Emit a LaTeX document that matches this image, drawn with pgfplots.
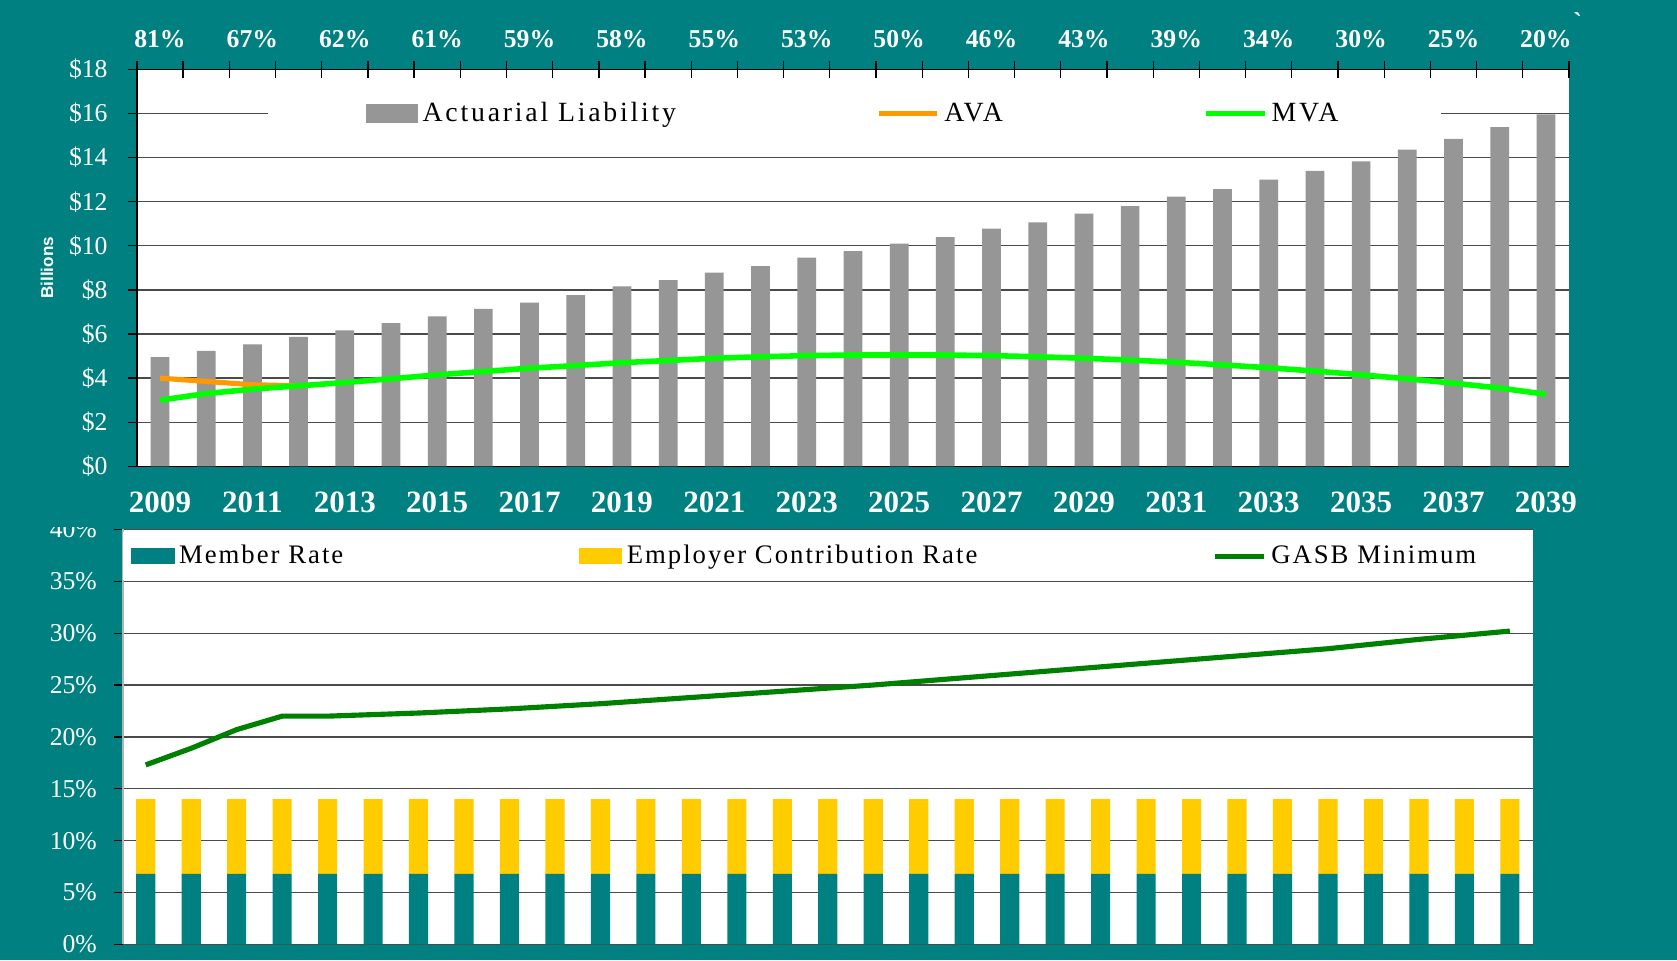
\documentclass[border=0pt]{standalone}
\usepackage{pgfplots}
\pgfplotsset{compat=1.18}
\usepackage{pgfplotstable}
\usepackage{fontspec}
\setmainfont{Liberation Serif}
\setsansfont{Liberation Sans}
\newfontfamily\legfont[LetterSpace=10]{Liberation Serif}
\newfontfamily\legfontb[LetterSpace=7.5]{Liberation Serif}
\definecolor{bg}{HTML}{008080}
\definecolor{barg}{HTML}{969696}
\definecolor{ava}{HTML}{FF9900}
\definecolor{mva}{HTML}{00FF00}
\definecolor{emp}{HTML}{FFCC00}
\definecolor{gasb}{HTML}{008000}
\definecolor{gridc}{HTML}{4A4A4A}

\pgfplotstableread{
idx al mva
0 4.95 3.00
1 5.24 3.30
2 5.53 3.50
3 5.87 3.65
4 6.17 3.80
5 6.50 3.97
6 6.80 4.15
7 7.14 4.30
8 7.43 4.45
9 7.77 4.57
10 8.16 4.70
11 8.45 4.80
12 8.79 4.90
13 9.08 4.97
14 9.47 5.02
15 9.76 5.05
16 10.10 5.05
17 10.40 5.05
18 10.78 5.02
19 11.07 4.97
20 11.46 4.90
21 11.80 4.82
22 12.23 4.72
23 12.57 4.60
24 13.00 4.47
25 13.40 4.32
26 13.83 4.15
27 14.37 3.97
28 14.85 3.77
29 15.39 3.55
30 15.97 3.27
}\toptab

\pgfplotstableread{
idx ava
0 4.00
1 3.85
2 3.70
3 3.65
}\avatab

\pgfplotstableread{
idx member employer gasb
0 6.8 7.2 17.3
1 6.8 7.2 18.9
2 6.8 7.2 20.7
3 6.8 7.2 22.0
4 6.8 7.2 22.0
5 6.8 7.2 22.15
6 6.8 7.2 22.3
7 6.8 7.2 22.5
8 6.8 7.2 22.7
9 6.8 7.2 22.95
10 6.8 7.2 23.2
11 6.8 7.2 23.5
12 6.8 7.2 23.8
13 6.8 7.2 24.1
14 6.8 7.2 24.4
15 6.8 7.2 24.7
16 6.8 7.2 25.0
17 6.8 7.2 25.35
18 6.8 7.2 25.7
19 6.8 7.2 26.05
20 6.8 7.2 26.4
21 6.8 7.2 26.75
22 6.8 7.2 27.1
23 6.8 7.2 27.45
24 6.8 7.2 27.8
25 6.8 7.2 28.15
26 6.8 7.2 28.5
27 6.8 7.2 28.95
28 6.8 7.2 29.4
29 6.8 7.2 29.8
30 6.8 7.2 30.2
}\bottab

\begin{document}
\begin{tikzpicture}
\fill[bg] (0pt,0pt) rectangle (784pt,449pt);

% ---------- bottom chart: bars ----------
\begin{axis}[
  at={(57.5pt,7.5pt)}, anchor=south west, scale only axis,
  width=659pt, height=194pt,
  xmin=-0.5, xmax=30.5, ymin=0, ymax=40,
  ybar stacked, bar width=8.95pt,
  axis background/.style={fill=white},
  axis x line*=bottom, axis y line*=left,
  x axis line style={draw=gridc, line width=0.7pt, -},
  y axis line style={draw=black!30, line width=0.7pt, -},
  xtick=\empty,
  ytick={0,5,...,40},
  yticklabels={0\%,5\%,10\%,15\%,20\%,25\%,30\%,35\%,40\%},
  yticklabel style={font=\fontsize{12}{12}\selectfont, text=white, xshift=-4.5pt},
  tick align=outside, major tick length=4.2pt,
  ytick style={draw=black, line width=0.6pt},
  ymajorgrids, grid style={draw=gridc, line width=0.6pt},
  legend columns=3,
  legend style={draw=none, fill=white, at={(axis description cs:0,0.9356)}, anchor=west,
     inner xsep=3.5pt, inner ysep=4pt,
     font=\legfontb\fontsize{12.5}{13}\selectfont,
     /tikz/every even column/.append style={column sep=108pt}},
  legend cell align=left,
]
\addplot[fill=bg, draw=none,
  legend image code/.code={\fill[bg] (0pt,-3.8pt) rectangle (20.5pt,3.8pt);}]
  table[x=idx, y=member] {\bottab};
\addlegendentry{Member Rate}
\addplot[fill=emp, draw=none,
  legend image code/.code={\fill[emp] (0pt,-3.8pt) rectangle (20.5pt,3.8pt);}]
  table[x=idx, y=employer] {\bottab};
\addlegendentry{Employer Contribution Rate}
\addlegendimage{legend image code/.code={\draw[gasb, line width=2.4pt] (0pt,0pt) -- (23pt,0pt);}}
\addlegendentry{GASB Minimum}
\end{axis}

% ---------- bottom chart: GASB line ----------
\begin{axis}[
  at={(57.5pt,7.5pt)}, anchor=south west, scale only axis,
  width=659pt, height=194pt,
  xmin=-0.5, xmax=30.5, ymin=0, ymax=40,
  axis lines=none,
]
\addplot[gasb, line width=2.4pt, mark=none] table[x=idx, y=gasb] {\bottab};
\end{axis}

% clip the top of the 40% label as in the reference
\fill[bg] (0pt,202.5pt) rectangle (57pt,232pt);

% ---------- top chart ----------
\begin{axis}[
  at={(64pt,231pt)}, anchor=south west, scale only axis,
  width=669.5pt, height=185.5pt,
  xmin=-0.5, xmax=30.5, ymin=0, ymax=18,
  axis background/.style={fill=white},
  axis x line*=bottom, axis y line*=left,
  axis line style={draw=black, line width=0.7pt, -},
  xtick={0,2,...,30},
  xticklabels={2009,2011,2013,2015,2017,2019,2021,2023,2025,2027,2029,2031,2033,2035,2037,2039},
  xticklabel style={font=\bfseries\fontsize{14.5}{14.5}\selectfont, text=white, yshift=-4pt},
  xtick style={draw=none},
  ytick={0,2,...,18},
  yticklabels={\$0,\$2,\$4,\$6,\$8,\$10,\$12,\$14,\$16,\$18},
  yticklabel style={font=\fontsize{12}{12}\selectfont, text=white, xshift=-6pt},
  tick align=outside, major tick length=4.2pt,
  ytick style={draw=black, line width=0.6pt},
  ymajorgrids, grid style={draw=gridc, line width=0.6pt},
  ylabel={Billions},
  ylabel style={at={(axis description cs:-0.0627,0.5)}, anchor=center, rotate=0,
     font=\sffamily\bfseries\fontsize{8}{8}\selectfont, text=white},
  legend columns=3,
  legend style={draw=none, fill=white, at={(axis description cs:0.501,0.889)}, anchor=center,
     inner xsep=46pt, inner ysep=5pt,
     font=\legfont\fontsize{13}{14}\selectfont,
     /tikz/every even column/.append style={column sep=91.5pt}},
]
\addplot[ybar, bar width=8.75pt, fill=barg, draw=none,
  legend image code/.code={\fill[barg] (0pt,-4.5pt) rectangle (24.5pt,4.5pt);}]
  table[x=idx, y=al] {\toptab};
\addlegendentry{Actuarial Liability}
\addplot[ava, line width=2.4pt, mark=none,
  legend image code/.code={\draw[ava, line width=2.4pt] (0pt,0pt) -- (27.5pt,0pt);}]
  table[x=idx, y=ava] {\avatab};
\addlegendentry{AVA}
\addplot[mva, line width=2.6pt, mark=none,
  legend image code/.code={\draw[mva, line width=2.6pt] (0pt,0pt) -- (27.5pt,0pt);}]
  table[x=idx, y=mva] {\toptab};
\addlegendentry{MVA}
\end{axis}

% ---------- top chart: upper axis with funded ratios ----------
\begin{axis}[
  at={(64pt,231pt)}, anchor=south west, scale only axis,
  width=669.5pt, height=185.5pt,
  xmin=-0.5, xmax=30.5, ymin=0, ymax=18,
  axis x line*=top, axis y line=none,
  axis line style={draw=black, line width=0.7pt, -},
  xtick={-0.5,0.5,...,30.5}, xticklabels={},
  tick align=center, major tick length=8.4pt,
  xtick style={draw=black, line width=0.6pt},
  extra x ticks={0,2,...,30},
  extra x tick labels={81\%,67\%,62\%,61\%,59\%,58\%,55\%,53\%,50\%,46\%,43\%,39\%,34\%,30\%,25\%,20\%},
  extra x tick style={major tick length=0pt, tick style={draw=none},
     xticklabel style={font=\bfseries\fontsize{12}{12}\selectfont, text=white, yshift=6.5pt}},
]
\addplot[draw=none, mark=none] coordinates {(0,0)};
\end{axis}

\node[text=white, font=\bfseries\fontsize{12}{12}\selectfont] at (737.5pt,439pt) {\textasciigrave};
\end{tikzpicture}
\end{document}
